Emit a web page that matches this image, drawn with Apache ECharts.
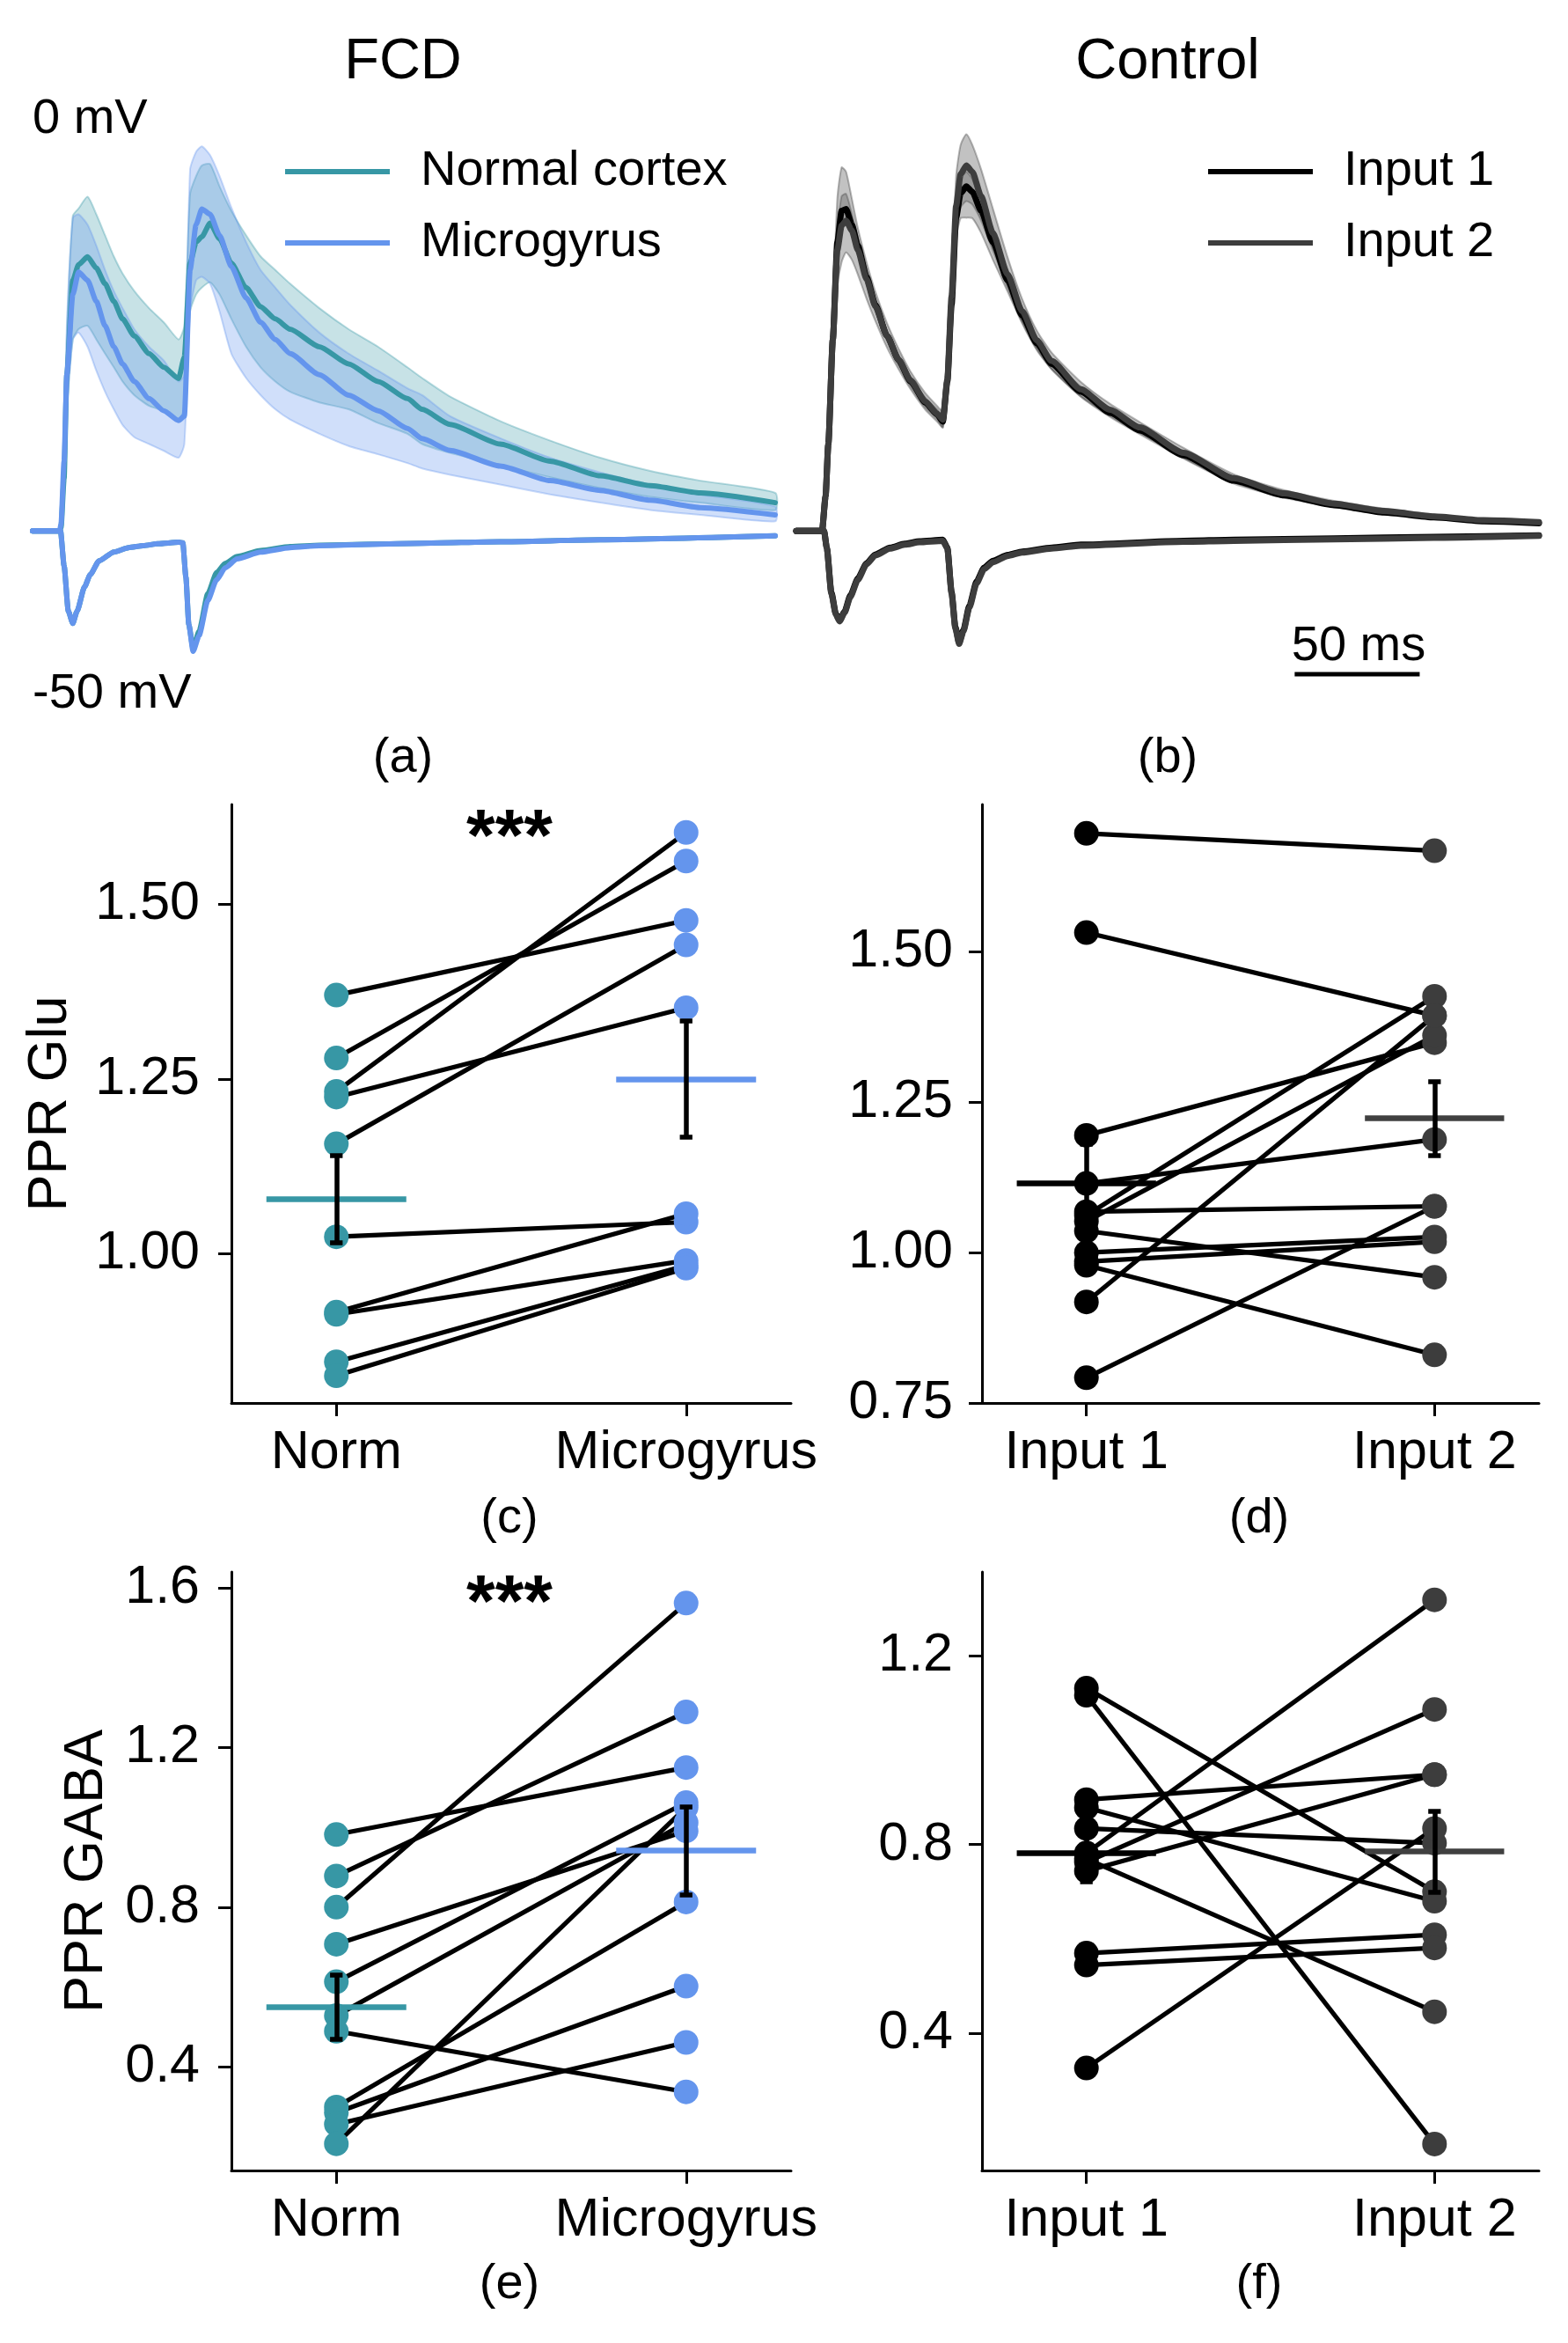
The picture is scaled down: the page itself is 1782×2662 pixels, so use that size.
<!DOCTYPE html>
<html>
<head>
<meta charset="utf-8">
<title>PPR FCD / Control</title>
<style>
html, body { margin: 0; padding: 0; background: #fff; }
#chart { width: 1782px; height: 2662px; }
</style>
</head>
<body>
<div id="chart"></div>
<script src="https://cdn.jsdelivr.net/npm/echarts@6/dist/echarts.min.js"></script>
<script>
// ---- (a) FCD traces, time in ms, amplitude in arbitrary units (baseline 0) ----
const tUpA = [0, 10.8, 11.4, 12.6, 13.7, 16.1, 18.4, 22, 25.5, 29, 32.5, 36, 40.7, 46.6, 52.5, 58.4, 60.7, 63, 65.4, 67.7, 71, 74.8, 79.5, 85.4, 91.2, 97.1, 103, 114.7, 126.4, 138.2, 149.9, 155.8, 167, 187, 207, 227, 247, 267, 297];
const normUp = [0, 0, 0.7, 10.7, 32.0, 51.3, 54.5, 56.1, 53.8, 50.6, 47.0, 43.4, 39.9, 36.3, 33.5, 31.2, 35.6, 54.8, 59.1, 60.2, 63.0, 59.8, 54.8, 49.8, 45.9, 43.4, 41.3, 37.7, 34.2, 30.6, 27.1, 24.9, 21.8, 17.8, 14.3, 11.3, 9.3, 7.8, 5.8];
const normUpHi = [0, 0, 0.7, 14, 40, 64.5, 66, 68.4, 64.8, 60.5, 56.2, 52.7, 49.1, 45.6, 42.7, 39.2, 42.0, 69.0, 72.6, 74.8, 75.1, 70.5, 65.5, 60.5, 56.2, 53.4, 50.6, 45.6, 41.3, 37.7, 33.5, 31.3, 27.5, 22.5, 18.5, 15.0, 12.3, 10.3, 7.8];
const normUpLo = [0, 0, 0.7, 8, 25, 39.2, 41.3, 42.0, 39.2, 36.3, 33.5, 30.6, 27.8, 25.6, 24.6, 22.8, 24.9, 44.9, 48.4, 49.8, 50.9, 48.4, 43.4, 37.7, 33.5, 30.6, 28.5, 26.3, 24.9, 22.1, 19.9, 17.8, 16.0, 13.5, 11.0, 8.8, 7.0, 5.8, 4.3];
const microUp = [0, 0, 1.4, 14.2, 32.0, 48.4, 53.0, 51.3, 47.0, 42.0, 37.7, 34.2, 30.6, 27.1, 24.6, 22.6, 23.5, 53.4, 62.7, 65.9, 64.8, 60.5, 54.1, 47.7, 42.7, 39.2, 36.3, 32.0, 27.8, 24.6, 21.0, 18.9, 16.5, 13.3, 10.3, 8.3, 6.3, 4.8, 3.3];
const microUpHi = [0, 0, 1.4, 18, 42, 64.1, 64.8, 62.7, 58.4, 53.4, 49.1, 45.6, 41.3, 37.7, 34.9, 30.6, 32.0, 74.0, 77.6, 78.7, 76.9, 72.6, 66.2, 59.1, 53.4, 49.8, 46.3, 40.6, 36.3, 32.8, 29.2, 27.8, 23.5, 19.0, 15.0, 12.0, 9.5, 7.5, 5.0];
const microUpLo = [0, 0, 1.4, 10, 24, 39.2, 40.6, 37.7, 32.8, 28.5, 24.9, 21.7, 19.2, 17.8, 16.4, 15.0, 17.8, 44.9, 51.3, 52.0, 50.6, 44.9, 36.3, 31.3, 27.8, 24.9, 22.8, 19.9, 17.4, 15.7, 13.9, 12.8, 11.5, 9.5, 7.5, 5.8, 4.3, 3.3, 2.0];

const tDnA = [0, 11.2, 12.6, 14.3, 16.1, 17.8, 20.8, 23.1, 26.6, 32.5, 38.4, 44.3, 50.1, 58.4, 60.1, 61.3, 62.5, 64.2, 66.6, 70.1, 73.6, 77.1, 81.8, 91.2, 103, 114.7, 155.8, 187, 227, 297];
const normDn = [0, 0, -7.1, -16.4, -18.9, -16.4, -11.4, -8.9, -6.1, -4.3, -3.4, -3.0, -2.6, -2.3, -2.4, -9.3, -19.2, -24.0, -20.5, -12.8, -8.5, -6.6, -5.2, -4.0, -3.2, -2.9, -2.5, -2.2, -1.8, -1.0];
const microDn = [0, 0, -7.1, -16.4, -18.9, -16.4, -11.4, -8.9, -6.1, -4.3, -3.4, -3.0, -2.6, -2.3, -2.4, -9.3, -19.2, -24.6, -21.4, -14.2, -10.0, -7.5, -5.7, -4.3, -3.4, -3.0, -2.5, -2.2, -1.8, -1.0];

// ---- (b) Control traces ----
const tUpB = [0, 10.3, 11.7, 12.8, 14.6, 16.4, 18.1, 19.9, 22.2, 24.6, 28.1, 31.6, 36.3, 41.0, 45.7, 51.6, 56.3, 58.6, 60.4, 62.1, 63.9, 65.7, 68.0, 70.4, 73.9, 78.6, 84.5, 90.3, 96.2, 102.1, 113.8, 125.5, 137.3, 154.9, 175, 195, 215, 235, 255, 275, 297];
const in1Up = [0, 0, 7.1, 17.8, 39.2, 59.1, 65.5, 65.9, 62.7, 58.4, 52.0, 46.3, 39.9, 34.9, 30.6, 26.3, 23.9, 22.4, 30.6, 46.3, 64.1, 69.1, 70.5, 69.4, 65.5, 59.1, 51.3, 44.1, 38.4, 34.2, 28.5, 24.2, 20.6, 15.5, 10.3, 7.3, 5.3, 3.8, 2.8, 2.0, 1.6];
const in1UpHi = [0, 0, 7.5, 19, 41, 61.5, 68.5, 69, 65, 60, 53.5, 47.5, 41, 36, 31.6, 27.3, 24.9, 23.6, 32, 48, 66.5, 72, 73.5, 72, 67.5, 60.8, 52.8, 45.4, 39.6, 35.3, 29.5, 25.1, 21.4, 16.2, 10.9, 7.8, 5.7, 4.2, 3.1, 2.3, 1.9];
const in1UpLo = [0, 0, 6.7, 16.6, 37.4, 56.7, 62.5, 63, 60.4, 56.8, 50.5, 45.1, 38.8, 33.8, 29.6, 25.3, 22.9, 21.2, 29.2, 44.6, 61.7, 66.2, 67.5, 66.8, 63.5, 57.4, 49.8, 42.8, 37.2, 33.1, 27.5, 23.3, 19.8, 14.8, 9.7, 6.8, 4.9, 3.4, 2.5, 1.7, 1.3];
const in2Up = [0, 0, 7.1, 17.8, 39.2, 57.5, 62.5, 63.5, 61.5, 57.5, 51.5, 46.0, 39.9, 35.0, 30.8, 26.5, 24.0, 22.8, 31.0, 48.0, 66.5, 73.0, 74.8, 73.5, 68.5, 61.0, 52.5, 45.0, 39.0, 34.8, 29.0, 24.8, 21.2, 16.0, 10.8, 7.7, 5.6, 4.1, 3.0, 2.2, 1.8];
const in2UpHi = [0, 0, 7.5, 20, 45, 68, 74.4, 73.5, 68, 62, 55, 49, 42.5, 37.2, 32.6, 28.2, 25.6, 24.5, 33, 51, 72.5, 79, 81.2, 79, 74, 66, 56, 47.5, 41, 36.5, 30.5, 26, 22.3, 17, 11.6, 8.4, 6.2, 4.6, 3.4, 2.5, 2.0];
const in2UpLo = [0, 0, 6.7, 16, 34, 50, 55, 57.0, 55.5, 52.5, 47.5, 43, 37.5, 33, 29, 24.8, 22.4, 21.2, 29, 45, 60, 64, 64.1, 64, 61, 55.5, 49, 42.5, 37, 33.1, 27.5, 23.6, 20.1, 15.0, 10.0, 7.0, 5.0, 3.6, 2.6, 1.9, 1.6];

const tDnB = [0, 11.1, 12.2, 14.0, 15.8, 17.3, 19.3, 21.6, 24.6, 28.1, 31.6, 37.5, 43.4, 49.2, 58.6, 60.4, 62.1, 63.6, 65.1, 66.8, 69.2, 72.1, 75.1, 78.6, 84.5, 90.3, 102.1, 113.8, 154.9, 175, 215, 255, 297];
const in1Dn = [0, 0, -3.4, -12.5, -16.9, -18.3, -16.5, -13.2, -9.7, -6.6, -4.8, -3.4, -2.6, -2.1, -1.8, -3.4, -12.5, -19.6, -22.8, -20.3, -15.3, -10.3, -7.5, -6.1, -4.9, -4.2, -3.4, -2.8, -2.0, -1.8, -1.5, -1.2, -0.9];
const in2Dn = [0, 0, -3.6, -12.8, -17.1, -18.5, -16.7, -13.5, -10.0, -6.8, -5.0, -3.6, -2.8, -2.3, -2.0, -3.6, -12.8, -19.9, -23.1, -20.6, -15.7, -10.7, -7.8, -6.4, -5.1, -4.4, -3.6, -3.0, -2.2, -2.0, -1.7, -1.4, -1.0];

// ---- (c)-(f) paired ratios ----
const catsFCD = ['Norm', 'Microgyrus'];
const catsCtl = ['Input 1', 'Input 2'];

const normGlu  = [1.370, 1.280, 1.232, 1.224, 1.157, 1.024, 0.916, 0.913, 0.845, 0.825];
const microGlu = [1.477, 1.562, 1.603, 1.352, 1.442, 1.045, 1.057, 0.990, 0.983, 0.979];
const gluMean = [1.078, 1.250];
const gluErr  = [0.062, 0.083];

const in1Glu = [1.697, 1.532, 1.195, 1.115, 1.062, 1.052, 1.068, 1.036, 1.000, 0.985, 0.979, 0.918, 0.792];
const in2Glu = [1.668, 1.394, 1.349, 1.188, 1.426, 1.361, 1.077, 0.959, 1.026, 1.018, 0.830, 1.394, 1.077];
const gluCtlMean = [1.115, 1.223];
const gluCtlErr  = [0.065, 0.062];

const normGaba  = [0.982, 0.878, 0.800, 0.707, 0.613, 0.528, 0.489, 0.299, 0.285, 0.256, 0.207];
const microGaba = [1.150, 1.289, 1.562, 0.991, 1.062, 1.012, 0.337, 0.813, 0.602, 0.461, 1.050];
const gabaMean = [0.550, 0.942];
const gabaErr  = [0.080, 0.110];

const in1Gaba = [1.131, 1.116, 0.895, 0.878, 0.834, 0.782, 0.770, 0.763, 0.744, 0.570, 0.545, 0.327];
const in2Gaba = [0.700, 0.166, 0.948, 0.680, 0.803, 1.318, 0.446, 1.086, 0.948, 0.609, 0.581, 0.834];
const gabaCtlMean = [0.782, 0.785];
const gabaCtlErr  = [0.060, 0.085];

const ticksGlu = [1.00, 1.25, 1.50];
const ticksGluCtl = [0.75, 1.00, 1.25, 1.50];
const ticksGaba = [0.4, 0.8, 1.2, 1.6];
const ticksGabaCtl = [0.4, 0.8, 1.2];

const FONT = 'Liberation Sans';
const TEAL = '#3797a5';
const BLUE = '#6495ed';
const GRAY = '#3d3d3d';

const zip = (t, v) => t.map((x, i) => [x, v[i]]);

function band(gi, t, lo, hi, fill, edge) {
  return {
    type: 'custom', xAxisIndex: gi, yAxisIndex: gi, silent: true, clip: false, z: 1,
    data: [[t[0], lo[0]]],
    renderItem: function (params, api) {
      const pts = [];
      for (let i = 0; i < t.length; i++) pts.push(api.coord([t[i], hi[i]]));
      for (let i = t.length - 1; i >= 0; i--) pts.push(api.coord([t[i], lo[i]]));
      return { type: 'polygon', shape: { points: pts, smooth: 0.2 }, style: { fill: fill, stroke: edge, lineWidth: 2 } };
    }
  };
}

function trace(gi, name, t, v, color, width, z) {
  return {
    type: 'line', name: name, xAxisIndex: gi, yAxisIndex: gi, data: zip(t, v),
    showSymbol: false, symbol: 'none', smooth: 0.2, smoothMonotone: 'x', silent: true,
    color: color, itemStyle: { color: color },
    lineStyle: { color: color, width: width, cap: 'round', join: 'round' }, z: z || 2
  };
}

function pairSeries(gi, a, b, colA, colB, mean, err, meanCols) {
  const s = [];
  s.push({
    type: 'lines', coordinateSystem: 'cartesian2d', xAxisIndex: gi, yAxisIndex: gi, silent: true, z: 2,
    lineStyle: { color: '#000', width: 5.2, opacity: 1 },
    data: a.map((v, i) => ({ coords: [[0, v], [1, b[i]]] }))
  });
  s.push({ type: 'scatter', xAxisIndex: gi, yAxisIndex: gi, symbolSize: 28, silent: true, z: 3,
    itemStyle: { color: colA, opacity: 1 }, data: a.map(v => [0, v]) });
  s.push({ type: 'scatter', xAxisIndex: gi, yAxisIndex: gi, symbolSize: 28, silent: true, z: 3,
    itemStyle: { color: colB, opacity: 1 }, data: b.map(v => [1, v]) });
  s.push({
    type: 'lines', coordinateSystem: 'cartesian2d', xAxisIndex: gi, yAxisIndex: gi, silent: true, z: 4,
    data: mean.map((m, k) => ({ coords: [[k - 0.2, m], [k + 0.2, m]], lineStyle: { color: meanCols[k], width: 6.5, opacity: 1 } }))
  });
  const eb = [];
  mean.forEach((m, k) => {
    eb.push({ coords: [[k, m - err[k]], [k, m + err[k]]] });
    eb.push({ coords: [[k - 0.018, m - err[k]], [k + 0.018, m - err[k]]] });
    eb.push({ coords: [[k - 0.018, m + err[k]], [k + 0.018, m + err[k]]] });
  });
  s.push({
    type: 'lines', coordinateSystem: 'cartesian2d', xAxisIndex: gi, yAxisIndex: gi, silent: true, z: 5,
    lineStyle: { color: '#000', width: 5.5, opacity: 1 }, data: eb
  });
  return s;
}

function catAxis(gi, names) {
  return {
    gridIndex: gi, type: 'value', min: -0.3, max: 1.3,
    axisLine: { show: true, onZero: false, lineStyle: { color: '#000', width: 3 } },
    axisTick: { show: true, length: 15, customValues: [0, 1], lineStyle: { color: '#000', width: 3 } },
    axisLabel: { show: true, customValues: [0, 1], formatter: v => names[Math.round(v)],
      fontSize: 61, fontFamily: FONT, color: '#000', margin: 27 },
    splitLine: { show: false }
  };
}

function valAxis(gi, min, max, ticks, dec, name, gap, margin) {
  return {
    gridIndex: gi, type: 'value', min: min, max: max,
    name: name || '', nameLocation: 'middle', nameRotate: 90, nameGap: gap || 0,
    nameTextStyle: { fontSize: 63, fontFamily: FONT, color: '#000' },
    axisLine: { show: true, onZero: false, lineStyle: { color: '#000', width: 3 } },
    axisTick: { show: true, length: 15, customValues: ticks, lineStyle: { color: '#000', width: 3 } },
    axisLabel: { show: true, customValues: ticks, formatter: v => v.toFixed(dec),
      fontSize: 61, fontFamily: FONT, color: '#000', margin: margin },
    splitLine: { show: false }
  };
}

const traceX = gi => ({ gridIndex: gi, type: 'value', min: 0, max: 297, show: false });
const traceY = gi => ({ gridIndex: gi, type: 'value', min: -32, max: 82, show: false });

function label(text, x, y, size, align, weight) {
  return { type: 'text', x: x, y: y, silent: true,
    style: { text: text, fontSize: size, fontFamily: FONT, fontWeight: weight || 'normal', fill: '#000',
      align: align || 'center', verticalAlign: 'middle' } };
}

const series = [
  band(0, tUpA, normUpLo, normUpHi, 'rgba(55,151,165,0.28)', 'rgba(55,151,165,0.35)'),
  band(0, tUpA, microUpLo, microUpHi, 'rgba(100,149,237,0.30)', 'rgba(100,149,237,0.35)'),
  trace(0, 'Normal cortex', tUpA, normUp, TEAL, 6),
  trace(0, 'Normal cortex', tDnA, normDn, TEAL, 6),
  trace(0, 'Microgyrus', tUpA, microUp, BLUE, 6, 3),
  trace(0, 'Microgyrus', tDnA, microDn, BLUE, 6, 3),

  band(1, tUpB, in1UpLo, in1UpHi, 'rgba(0,0,0,0.22)', 'rgba(0,0,0,0.25)'),
  trace(1, 'Input 1', tUpB, in1Up, '#000', 7),
  trace(1, 'Input 1', tDnB, in1Dn, '#000', 7),
  band(1, tUpB, in2UpLo, in2UpHi, 'rgba(64,64,64,0.32)', 'rgba(64,64,64,0.38)'),
  trace(1, 'Input 2', tUpB, in2Up, GRAY, 7, 3),
  trace(1, 'Input 2', tDnB, in2Dn, GRAY, 7, 3),
  { type: 'line', name: 'scalebar', xAxisIndex: 1, yAxisIndex: 1, data: [[199.3, -29.3], [249.3, -29.3]],
    showSymbol: false, symbol: 'none', silent: true, lineStyle: { color: '#000', width: 5 } }
].concat(
  pairSeries(2, normGlu, microGlu, TEAL, BLUE, gluMean, gluErr, [TEAL, BLUE]),
  pairSeries(3, in1Glu, in2Glu, '#000', GRAY, gluCtlMean, gluCtlErr, ['#000', '#404040']),
  pairSeries(4, normGaba, microGaba, TEAL, BLUE, gabaMean, gabaErr, [TEAL, BLUE]),
  pairSeries(5, in1Gaba, in2Gaba, '#000', GRAY, gabaCtlMean, gabaCtlErr, ['#000', '#404040'])
);

const legendBase = {
  orient: 'vertical', top: 160, itemWidth: 119, itemHeight: 6, itemGap: 21, icon: 'rect',
  selectedMode: false,
  textStyle: { fontSize: 56, fontFamily: FONT, color: '#000', lineHeight: 60, padding: [0, 0, 0, 30] }
};

const option = {
  animation: false,
  backgroundColor: '#fff',
  grid: [
    { left: 37, top: 148, width: 844, height: 633 },
    { left: 905, top: 148, width: 844, height: 633 },
    { left: 263, top: 914, width: 636, height: 680 },
    { left: 1116, top: 914, width: 633, height: 680 },
    { left: 263, top: 1786, width: 636, height: 680 },
    { left: 1116, top: 1786, width: 633, height: 680 }
  ],
  xAxis: [traceX(0), traceX(1), catAxis(2, catsFCD), catAxis(3, catsCtl), catAxis(4, catsFCD), catAxis(5, catsCtl)],
  yAxis: [
    traceY(0), traceY(1),
    valAxis(2, 0.786, 1.643, ticksGlu, 2, 'PPR Glu', 174, 36),
    valAxis(3, 0.75, 1.745, ticksGluCtl, 2, '', 0, 33),
    valAxis(4, 0.14, 1.64, ticksGaba, 1, 'PPR GABA', 133, 36),
    valAxis(5, 0.11, 1.377, ticksGabaCtl, 1, '', 0, 33)
  ],
  legend: [
    Object.assign({}, legendBase, { left: 319, data: ['Normal cortex', 'Microgyrus'] }),
    Object.assign({}, legendBase, { left: 1368, data: ['Input 1', 'Input 2'] })
  ],
  graphic: [
    label('FCD', 458, 71, 65),
    label('Control', 1327, 71, 65),
    label('0 mV', 37, 136, 56, 'left'),
    label('-50 mV', 37, 789, 56, 'left'),
    label('50 ms', 1544, 735, 56),
    label('(a)', 458, 862, 56),
    label('(b)', 1327, 862, 56),
    label('(c)', 579, 1726, 56),
    label('(d)', 1431, 1726, 56),
    label('(e)', 579, 2596, 56),
    label('(f)', 1431, 2596, 56),
    label('***', 579, 955, 84, 'center', 'bold'),
    label('***', 579, 1825, 84, 'center', 'bold')
  ],
  series: series
};

const chart = echarts.init(document.getElementById('chart'), null, { renderer: 'canvas' });
chart.setOption(option);
</script>
</body>
</html>
